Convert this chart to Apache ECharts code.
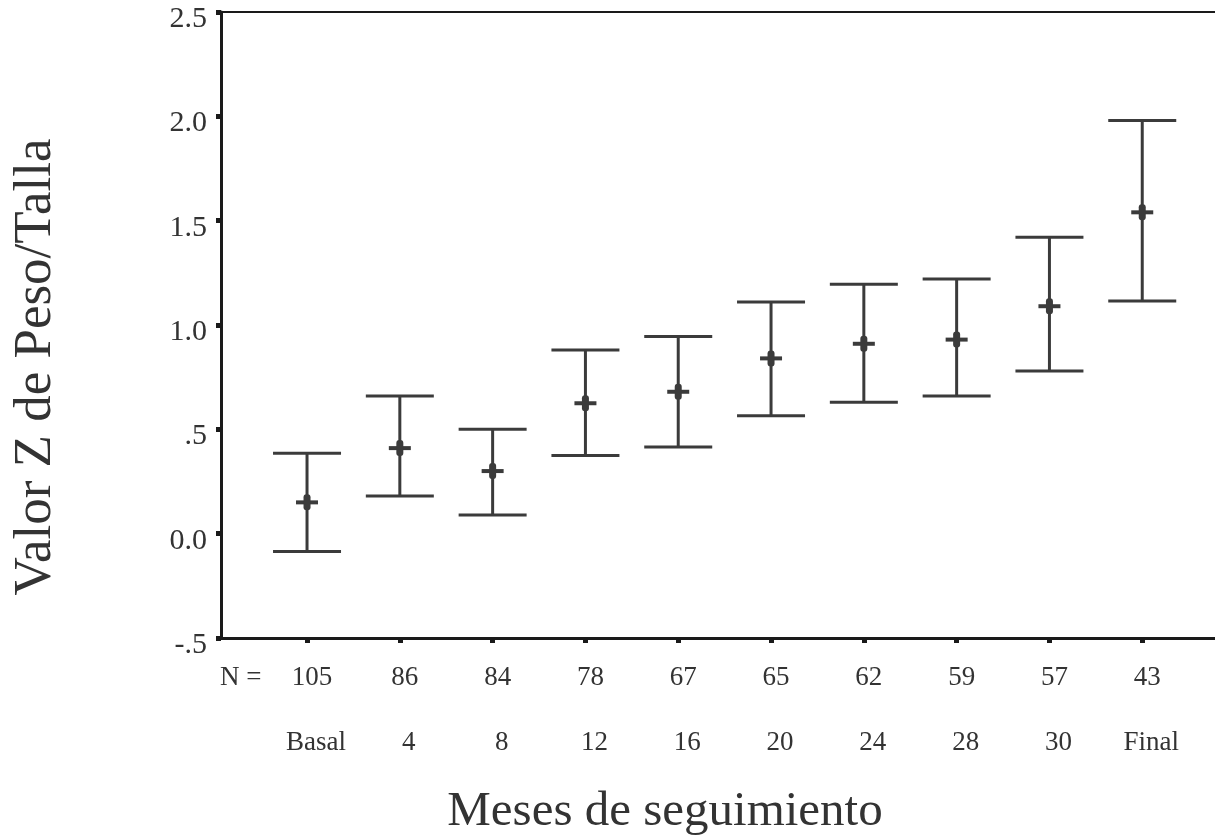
<!DOCTYPE html>
<html>
<head>
<meta charset="utf-8">
<script src="https://cdn.jsdelivr.net/npm/echarts@6/dist/echarts.min.js"></script>
<style>
  html, body { margin: 0; padding: 0; background: #ffffff; }
  #chart { width: 1215px; height: 840px; }
</style>
</head>
<body>
<div id="chart"></div>
<script>
// Follow-up visits and sample size at each visit
const months = ['Basal', '4', '8', '12', '16', '20', '24', '28', '30', 'Final'];
const nCounts = [105, 86, 84, 78, 67, 65, 62, 59, 57, 43];

// Weight-for-height Z score: mean and interval limits per visit
const means = [0.15, 0.41, 0.30, 0.625, 0.68, 0.84, 0.91, 0.93, 1.09, 1.54];
const lower = [-0.086, 0.18, 0.09, 0.375, 0.415, 0.565, 0.63, 0.66, 0.78, 1.115];
const upper = [0.385, 0.66, 0.50, 0.88, 0.945, 1.11, 1.195, 1.22, 1.42, 1.98];

// Y tick labels in the original SPSS style
const yTickValues = [-0.5, 0, 0.5, 1, 1.5, 2, 2.5];
const yTickLabels = ['-.5', '0.0', '.5', '1.0', '1.5', '2.0', '2.5'];

const positions = months.map((_, i) => i);
const barData = positions.map((i) => [i, means[i], lower[i], upper[i]]);

const ink = '#3b3b3b';
const axisInk = '#1a1a1a';
const serif = '"Liberation Serif", "Times New Roman", serif';

const chart = echarts.init(document.getElementById('chart'), null, { renderer: 'canvas' });

chart.setOption({
  backgroundColor: '#ffffff',
  animation: false,
  grid: { left: 221, right: 0, top: 12, bottom: 202, containLabel: false },
  xAxis: [
    {
      type: 'value',
      min: -0.927,
      max: 9.784,
      position: 'bottom',
      splitLine: { show: false },
      axisLine: { show: true, onZero: false, lineStyle: { color: axisInk, width: 3 } },
      axisTick: {
        show: true,
        customValues: positions,
        length: 5,
        lineStyle: { color: axisInk, width: 5 }
      },
      axisLabel: {
        show: true,
        customValues: positions,
        margin: 20,
        fontFamily: serif,
        color: '#333',
        formatter: (v) => {
          const i = Math.round(v);
          return '{n|' + nCounts[i] + '}\n{m|' + months[i] + '}';
        },
        rich: {
          n: { fontFamily: serif, fontSize: 27, color: '#333', lineHeight: 40, padding: [0, 0, 0, 10] },
          m: { fontFamily: serif, fontSize: 27, color: '#333', lineHeight: 90, padding: [0, 0, 0, 18] }
        }
      }
    },
    {
      type: 'value',
      min: -0.927,
      max: 9.784,
      position: 'top',
      splitLine: { show: false },
      axisLine: { show: true, onZero: false, lineStyle: { color: axisInk, width: 2 } },
      axisTick: { show: false },
      axisLabel: { show: false }
    }
  ],
  yAxis: {
    type: 'value',
    min: -0.5,
    max: 2.5,
    interval: 0.5,
    splitLine: { show: false },
    axisLine: { show: true, onZero: false, lineStyle: { color: axisInk, width: 3 } },
    axisTick: { show: true, length: 5, lineStyle: { color: axisInk, width: 5 } },
    axisLabel: {
      margin: 14,
      color: '#333',
      formatter: (v) => {
        const k = yTickValues.findIndex((t) => Math.abs(t - v) < 1e-9);
        return k >= 0 ? '{t|' + yTickLabels[k] + '}' : '';
      },
      rich: {
        t: { fontFamily: serif, fontSize: 30, color: '#333', padding: [14, 0, 0, 0] }
      }
    }
  },
  series: [
    {
      type: 'custom',
      xAxisIndex: 0,
      data: barData,
      renderItem: (params, api) => {
        const x = api.value(0);
        const pMean = api.coord([x, api.value(1)]);
        const pLow = api.coord([x, api.value(2)]);
        const pHigh = api.coord([x, api.value(3)]);
        const capHalf = 34;
        const style = { stroke: ink, lineWidth: 3, fill: null };
        return {
          type: 'group',
          children: [
            { type: 'line', shape: { x1: pLow[0], y1: pLow[1], x2: pHigh[0], y2: pHigh[1] }, style },
            { type: 'line', shape: { x1: pHigh[0] - capHalf, y1: pHigh[1], x2: pHigh[0] + capHalf, y2: pHigh[1] }, style },
            { type: 'line', shape: { x1: pLow[0] - capHalf, y1: pLow[1], x2: pLow[0] + capHalf, y2: pLow[1] }, style },
            { type: 'rect', shape: { x: pMean[0] - 11, y: pMean[1] - 2, width: 22, height: 4 }, style: { fill: ink } },
            { type: 'rect', shape: { x: pMean[0] - 3.5, y: pMean[1] - 8, width: 7, height: 16, r: 3 }, style: { fill: ink } }
          ]
        };
      }
    }
  ],
  graphic: [
    {
      type: 'text',
      left: 220, top: 664,
      style: { text: 'N =', font: '27px ' + serif, fill: '#333' }
    },
    {
      type: 'text',
      x: 36, y: 367,
      rotation: Math.PI / 2,
      style: {
        text: 'Valor Z de Peso/Talla',
        font: '53px ' + serif,
        fill: '#333',
        align: 'center',
        verticalAlign: 'middle'
      }
    },
    {
      type: 'text',
      x: 665, y: 812,
      style: {
        text: 'Meses de seguimiento',
        font: '49px ' + serif,
        fill: '#333',
        align: 'center',
        verticalAlign: 'middle'
      }
    }
  ]
});
</script>
</body>
</html>
